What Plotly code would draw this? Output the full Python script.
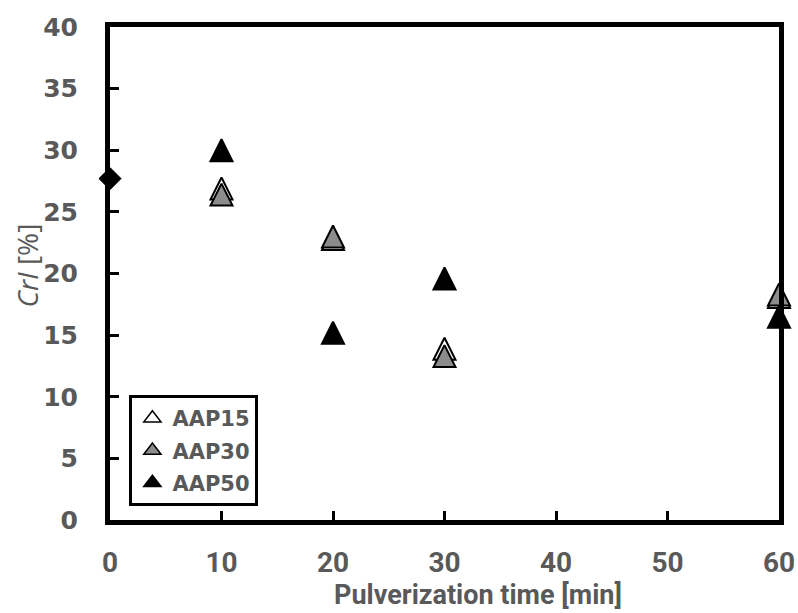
import plotly.graph_objects as go

# Pulverization time [min]
times = [10, 20, 30, 60]
aap15 = [26.9, 22.8, 13.9, 18.1]
aap30 = [26.4, 23.0, 13.3, 18.3]
aap50 = [30.0, 15.2, 19.6, 16.5]

# untreated reference sample
ref_time = [0]
ref_cri = [27.7]

grey = "#595959"
tri_size = 22

fig = go.Figure()
fig.add_trace(go.Scatter(
    x=ref_time, y=ref_cri, mode="markers", showlegend=False, cliponaxis=False,
    marker=dict(symbol="diamond", size=17, color="black", line=dict(color="black", width=1)),
))
series = [("AAP15", aap15, "white"), ("AAP30", aap30, "#8c8c8c"), ("AAP50", aap50, "black")]
for name, vals, col in series:
    # upright triangle centred on the point (arrow rotated, shifted by half its size)
    fig.add_trace(go.Scatter(
        x=times, y=vals, name=name, mode="markers", cliponaxis=False,
        legendgroup=name, showlegend=False,
        marker=dict(symbol="arrow-down", angle=180, standoff=tri_size / 2,
                    size=tri_size, color=col, line=dict(color="black", width=2)),
    ))
    # legend entry
    fig.add_trace(go.Scatter(
        x=[None], y=[None], name=name, mode="markers", legendgroup=name,
        marker=dict(symbol="triangle-up", size=15, color=col, line=dict(color="black", width=1.5)),
    ))

fig.update_layout(
    width=798, height=613,
    margin=dict(l=110, r=19, t=27, b=93),
    plot_bgcolor="white", paper_bgcolor="white",
    font=dict(family="Open Sans, DejaVu Sans, sans-serif", color=grey),
    legend=dict(
        x=0.029, y=0.2535, xanchor="left", yanchor="top",
        bordercolor="black", borderwidth=3, bgcolor="white",
        font=dict(size=21, color=grey, family="DejaVu Sans, sans-serif", weight="bold"),
        itemwidth=30, tracegroupgap=2,
    ),
    xaxis=dict(
        range=[0, 60], tickvals=[0, 10, 20, 30, 40, 50, 60],
        showgrid=False, zeroline=False, automargin=False,
        showline=True, linecolor="black", linewidth=5, mirror=True,
        ticks="inside", ticklen=9, tickwidth=3, tickcolor="black",
        ticklabelstandoff=13,
        tickfont=dict(size=28, color=grey, family="Liberation Sans Narrow, Roboto, sans-serif", weight="bold"),
    ),
    yaxis=dict(
        range=[0, 40], tickvals=[0, 5, 10, 15, 20, 25, 30, 35, 40],
        showgrid=False, zeroline=False, automargin=False,
        showline=True, linecolor="black", linewidth=5, mirror=True,
        ticks="inside", ticklen=9, tickwidth=3, tickcolor="black",
        ticklabelstandoff=22,
        tickfont=dict(size=25, color=grey, family="DejaVu Sans, sans-serif", weight="bold"),
    ),
    annotations=[
        dict(text="Pulverization time [min]", xref="paper", yref="paper",
             x=0.55, y=0, xanchor="center", yanchor="middle", yshift=-75,
             showarrow=False,
             font=dict(size=27, color=grey, family="Liberation Sans Narrow, Roboto, sans-serif", weight="bold")),
        dict(text="<i>CrI</i> [%]", xref="paper", yref="paper",
             x=0, y=0.5, xanchor="center", yanchor="middle", xshift=-84, yshift=8,
             textangle=-90, showarrow=False,
             font=dict(size=28, color=grey, family="Open Sans, sans-serif")),
    ],
)

fig.write_html("out.html")
